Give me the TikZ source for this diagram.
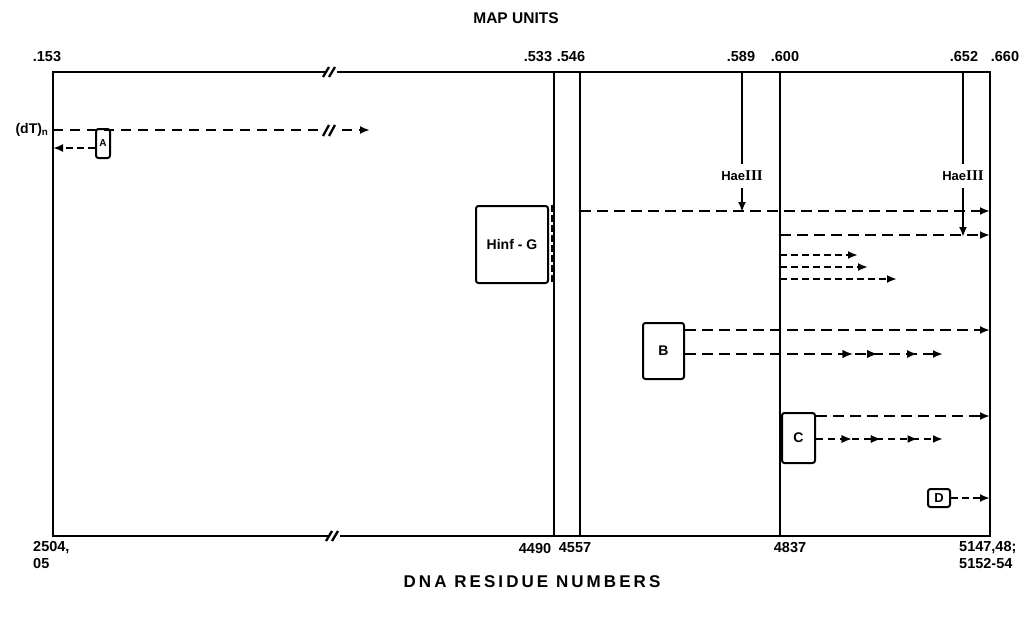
\documentclass[tikz,border=0pt]{standalone}
\usepackage{fontspec}
\setmainfont{Liberation Sans}
\newfontfamily\romnum{Liberation Serif}
\usetikzlibrary{arrows.meta,decorations.markings}
\begin{document}
\begin{tikzpicture}[x=1pt,y=-1pt,
  frame/.style={line width=2.5pt},
  vline/.style={line width=2pt},
  tip/.style={-{Latex[length=10pt,width=8pt]}},
  dline/.style={line width=2.3pt, dash pattern=on 11pt off 6pt, tip},
  sline/.style={line width=2.3pt, dash pattern=on 7pt off 4pt, tip},
  box/.style={draw, line width=2pt, rounded corners=2.5pt, inner sep=0pt, font=\bfseries\fontsize{14}{15}\selectfont},
  lab/.style={font=\bfseries\fontsize{14.5}{16}\selectfont, inner sep=0pt},
  title/.style={font=\bfseries\fontsize{15.5}{16}\selectfont, inner sep=0pt},
  brk/.style={line width=2.3pt},
  multi/.style 2 args={postaction={decorate}, decoration={markings,
     mark=at position #1 with {\arrow{Latex[length=10pt,width=8pt]}},
     mark=at position #2 with {\arrow{Latex[length=10pt,width=8pt]}}}},
]
\useasboundingbox (0,0) rectangle (1032,616);
% frame coordinates
\coordinate (tl) at (53,72);
\coordinate (tr) at (990,72);
\coordinate (bl) at (53,536);
\coordinate (br) at (990,536);
\coordinate (t533) at (554,72);  \coordinate (b533) at (554,536);
\coordinate (t546) at (580,72);  \coordinate (b546) at (580,536);
\coordinate (t600) at (780,72);  \coordinate (b600) at (780,536);
\draw[frame] (tl) -- (tr) -- (br) -- (bl) -- cycle;
\draw[vline] (t533) -- (b533);
\draw[vline] (t546) -- (b546);
\draw[vline] (t600) -- (b600);
% breaks on frame
\fill[white] (325,68) rectangle (337,76);
\draw[brk] (323,77) -- (329,67) (329,77) -- (335,67);
\fill[white] (328,532) rectangle (340,540);
\draw[brk] (326,541) -- (332,531) (332,541) -- (338,531);

% titles
\node[title] (maptitle) at (516,18) {MAP UNITS};
\node[title, font=\bfseries\fontsize{17}{18}\selectfont\addfontfeatures{LetterSpace=18}] (dnatitle) at (532,582) {DNA RESIDUE NUMBERS};

% top labels
\node[lab] (m153) at (47,57) {.153};
\node[lab] (m533) at (538,57) {.533};
\node[lab] (m546) at (571,57) {.546};
\node[lab] (m589) at (741,57) {.589};
\node[lab] (m600) at (785,57) {.600};
\node[lab] (m652) at (964,57) {.652};
\node[lab] (m660) at (1005,57) {.660};

% bottom labels
\node[lab, align=left, anchor=north west, font=\bfseries\fontsize{14.5}{17}\selectfont] (n2504) at (33,541) {2504,\\05};
\node[lab] (n4490) at (535,548) {4490};
\node[lab] (n4557) at (575,548) {4557};
\node[lab] (n4837) at (790,548) {4837};
\node[lab, align=left, anchor=north west, font=\bfseries\fontsize{14.5}{17}\selectfont] (n5147) at (959,541) {5147,48;\\5152-54};

% HaeIII sites
\coordinate (h1t) at (742,72);
\coordinate (h2t) at (963,72);
\node[lab, font=\bfseries\fontsize{13}{14}\selectfont] (hae1) at (742,176) {Hae{\romnum\bfseries\fontsize{15}{16}\selectfont III}};
\node[lab, font=\bfseries\fontsize{13}{14}\selectfont] (hae2) at (963,176) {Hae{\romnum\bfseries\fontsize{15}{16}\selectfont III}};
\draw[vline] (h1t) -- (hae1.north |- 0,164);
\draw[vline] (h2t) -- (hae2.north |- 0,164);
\coordinate (h1b) at (742,212);
\coordinate (h2b) at (963,237);
\draw[vline, tip] (hae1.south |- 0,188) -- (h1b);
\draw[vline, tip] (hae2.south |- 0,188) -- (h2b);

% (dT)n and A
\node[lab, font=\bfseries\fontsize{14}{15}\selectfont] (dT) at (32,130) {(dT)$_{\mathbf{n}}$};
\node[box, minimum width=14pt, minimum height=29pt, font=\bfseries\fontsize{10}{11}\selectfont] (A) at (103,143.5) {A};
\coordinate (a1s) at (53,130);
\coordinate (a1e) at (370,130);
\coordinate (a2e) at (53,148);
\draw[dline, dash pattern=on 10pt off 7pt] (a1s) -- (a1e);
\fill[white] (325,123) rectangle (337,137);
\draw[brk] (323,136) -- (329,125) (329,136) -- (335,125);
\draw[sline] (A.west |- a2e) -- (a2e);

% Hinf-G
\node[box, minimum width=72pt, minimum height=77pt] (H) at (512,244.5) {Hinf - G};
\draw[line width=1.6pt, dash pattern=on 7pt off 3pt] ([xshift=3pt]H.north east) -- ([xshift=3pt]H.south east);

% lines from .546 and .600
\coordinate (s1) at (580,211); \coordinate (e1) at (990,211);
\coordinate (s2) at (780,235); \coordinate (e2) at (990,235);
\coordinate (s3) at (780,255); \coordinate (e3) at (858,255);
\coordinate (s4) at (780,267); \coordinate (e4) at (868,267);
\coordinate (s5) at (780,279); \coordinate (e5) at (897,279);
\draw[dline] (s1) -- (e1);
\draw[dline] (s2) -- (e2);
\draw[sline] (s3) -- (e3);
\draw[sline] (s4) -- (e4);
\draw[sline] (s5) -- (e5);

% B
\node[box, minimum width=41pt, minimum height=56pt] (B) at (663.5,351) {B};
\coordinate (b1e) at (990,330);
\coordinate (b2e) at (943,354);
\draw[dline] (B.east |- b1e) -- (b1e);
\draw[dline, multi={0.65}{0.745}, postaction={decorate, decoration={markings, mark=at position 0.9 with {\arrow{Latex[length=10pt,width=8pt]}}}}] (B.east |- b2e) -- (b2e);

% C
\node[box, minimum width=33pt, minimum height=50pt, fill=white] (C) at (798.5,438) {C};
\coordinate (c1e) at (990,416);
\coordinate (c2e) at (943,439);
\draw[dline] (C.east |- c1e) -- (c1e);
\draw[sline, dash pattern=on 7pt off 5pt, multi={0.28}{0.51}, postaction={decorate, decoration={markings, mark=at position 0.8 with {\arrow{Latex[length=10pt,width=8pt]}}}}] (C.east |- c2e) -- (c2e);

% D
\node[box, minimum width=22pt, minimum height=18pt, font=\bfseries\fontsize{13}{14}\selectfont] (D) at (939,498) {D};
\coordinate (d1e) at (990,498);
\draw[sline] (D.east) -- (d1e);
\end{tikzpicture}
\end{document}
